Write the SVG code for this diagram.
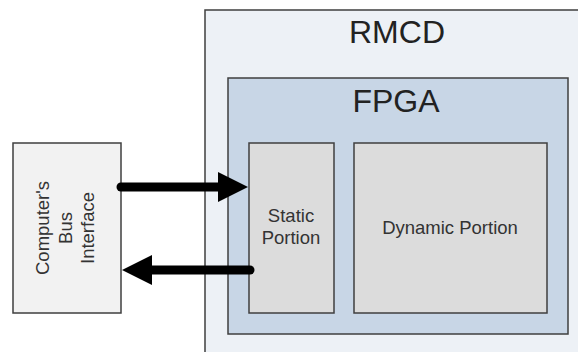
<svg xmlns="http://www.w3.org/2000/svg" width="578" height="352" viewBox="0 0 578 352">
<style>
.box{stroke:#3f3f3f;stroke-width:1.5}
.t{font-family:"Liberation Sans",Arial,sans-serif;fill:#222;text-anchor:middle}
.big{font-size:32px}
.sm{font-size:18.5px;fill:#333}
.conn{stroke:#000;stroke-width:9;stroke-linecap:round;fill:none}
</style>
<defs>
<marker id="ah" markerUnits="userSpaceOnUse" markerWidth="30" markerHeight="30" refX="0" refY="15" orient="auto">
<path d="M0,0 L30,15 L0,30 z" fill="#000"/>
</marker>
</defs>
<rect width="578" height="352" fill="#fff"/>
<g id="rmcd">
<rect class="box" x="205" y="10" width="385" height="355" fill="#edf1f6"/>
<text class="t big" x="397" y="43">RMCD</text>
</g>
<g id="fpga">
<rect class="box" x="228" y="78" width="340" height="256" fill="#c8d6e6"/>
<text class="t big" x="396" y="112">FPGA</text>
</g>
<g id="static">
<rect class="box" x="249" y="143" width="85" height="170" fill="#dcdcdc"/>
<text class="t sm" x="291" y="222">Static<tspan x="291" dy="22">Portion</tspan></text>
</g>
<g id="dynamic">
<rect class="box" x="354" y="143" width="193" height="170" fill="#dcdcdc"/>
<text class="t sm" x="450" y="234">Dynamic Portion</text>
</g>
<g id="bus">
<rect class="box" x="13" y="143" width="108" height="170" fill="#f2f2f2"/>
<text class="t sm" transform="translate(49,228) rotate(-90)" x="0" y="0">Computer's<tspan x="0" dy="22.5">Bus</tspan><tspan x="0" dy="22.5">Interface</tspan></text>
</g>
<g id="connectors">
<path class="conn" d="M121,187 L218,187" marker-end="url(#ah)"/>
<path class="conn" d="M250,270 L152,270" marker-end="url(#ah)"/>
</g>
</svg>
